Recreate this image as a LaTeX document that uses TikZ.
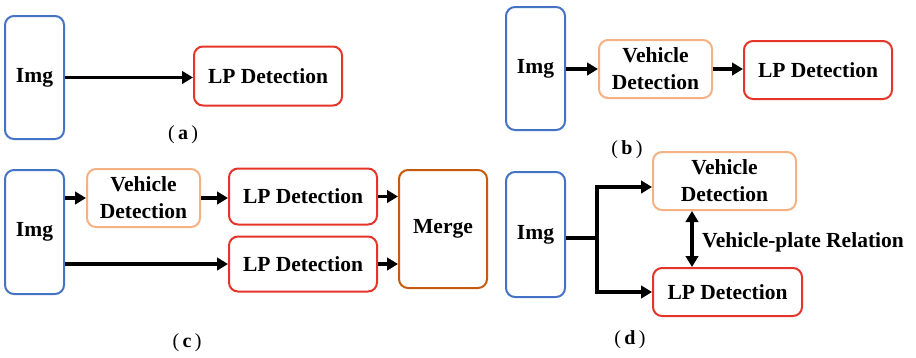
\documentclass[tikz,border=0pt]{standalone}
\usepackage{fontspec}
\setmainfont{Liberation Serif}
\usetikzlibrary{arrows.meta}

\definecolor{imgblue}{HTML}{4472C4}
\definecolor{lpred}{HTML}{E5352B}
\definecolor{vehorange}{HTML}{F4B183}
\definecolor{mergeorange}{HTML}{C55A11}

\tikzset{
  box/.style={draw, line width=2pt, rounded corners=9pt, inner sep=0pt,
              align=center, font=\fontsize{21.5}{27}\selectfont\bfseries},
  imgbox/.style={box, draw=imgblue, minimum width=59pt, minimum height=123pt},
  lpbox/.style={box, draw=lpred, minimum width=148pt},
  vehbox/.style={box, draw=vehorange, minimum width=113pt, minimum height=58pt},
  mergebox/.style={box, draw=mergeorange},
  tip/.tip={Triangle[length=11pt,width=12.5pt]},
  arr/.style={line width=3.4pt, -tip},
  dblarr/.style={line width=3.4pt, tip-tip},
  link/.style={line width=3.4pt},
  caption/.style={inner sep=0pt, font=\fontsize{20}{24}\selectfont},
  relation/.style={inner sep=0pt, anchor=west, font=\fontsize{21.5}{27}\selectfont\bfseries}
}

\begin{document}
\begin{tikzpicture}[x=1pt, y=-1pt]
  \useasboundingbox (0,0) rectangle (916,357);

  % (a) plate detection straight from the image
  \node[imgbox] (imgA) at (34.5,77.5) {Img};
  \node[lpbox, minimum height=59pt] (lpA) at (268,76) {LP Detection};
  \draw[arr] (imgA.east) -- (imgA.east -| lpA.west);
  \node[caption] (capA) at (183,135) {(\,\textbf{a}\,)};

  % (b) vehicles first, then plates
  \node[imgbox] (imgB) at (535.5,68.5) {Img};
  \node[vehbox] (vehB) at (655.5,69) {Vehicle\\Detection};
  \node[lpbox, minimum height=58pt] (lpB) at (818,70) {LP Detection};
  \draw[arr] (imgB.east |- vehB.west) -- (vehB.west);
  \draw[arr] (vehB.east) -- (vehB.east -| lpB.west);
  \node[caption] (capB) at (627,150) {(\,\textbf{b}\,)};

  % (c) two branches merged
  \node[imgbox, minimum height=124pt] (imgC) at (34.5,232) {Img};
  \node[vehbox] (vehC) at (143.5,198) {Vehicle\\Detection};
  \node[lpbox, minimum height=56pt] (lpC1) at (303,196.5) {LP Detection};
  \node[lpbox, minimum height=55pt] (lpC2) at (303,264) {LP Detection};
  \node[mergebox, minimum width=88pt, minimum height=118pt] (merge) at (443,229) {Merge};
  \draw[arr] (imgC.east |- vehC.west) -- (vehC.west);
  \draw[arr] (vehC.east) -- (vehC.east -| lpC1.west);
  \draw[arr] (lpC1.east) -- (lpC1.east -| merge.west);
  \draw[arr] (imgC.east |- lpC2.west) -- (lpC2.west);
  \draw[arr] (lpC2.east) -- (lpC2.east -| merge.west);
  \node[caption] (capC) at (187,343) {(\,\textbf{c}\,)};

  % (d) joint detection with vehicle-plate relation
  \node[imgbox, minimum height=125pt] (imgD) at (535.5,234.5) {Img};
  \node[vehbox, minimum width=143pt] (vehD) at (724.5,181) {Vehicle\\Detection};
  \node[lpbox, minimum width=149pt, minimum height=48pt] (lpD) at (727.5,292) {LP Detection};
  \coordinate (jD) at (597,238);
  \draw[link] (imgD.east |- jD) -- (jD);
  \draw[arr] (jD) |- ([yshift=-6pt]vehD.west);
  \draw[arr] (jD) |- (lpD.west);
  \node[relation] (rel) at (702,242) {Vehicle-plate Relation};
  \draw[dblarr] ([xshift=-10pt]rel.west |- vehD.south) -- ([xshift=-10pt]rel.west |- lpD.north);
  \node[caption] (capD) at (630,340) {(\,\textbf{d}\,)};
\end{tikzpicture}
\end{document}
